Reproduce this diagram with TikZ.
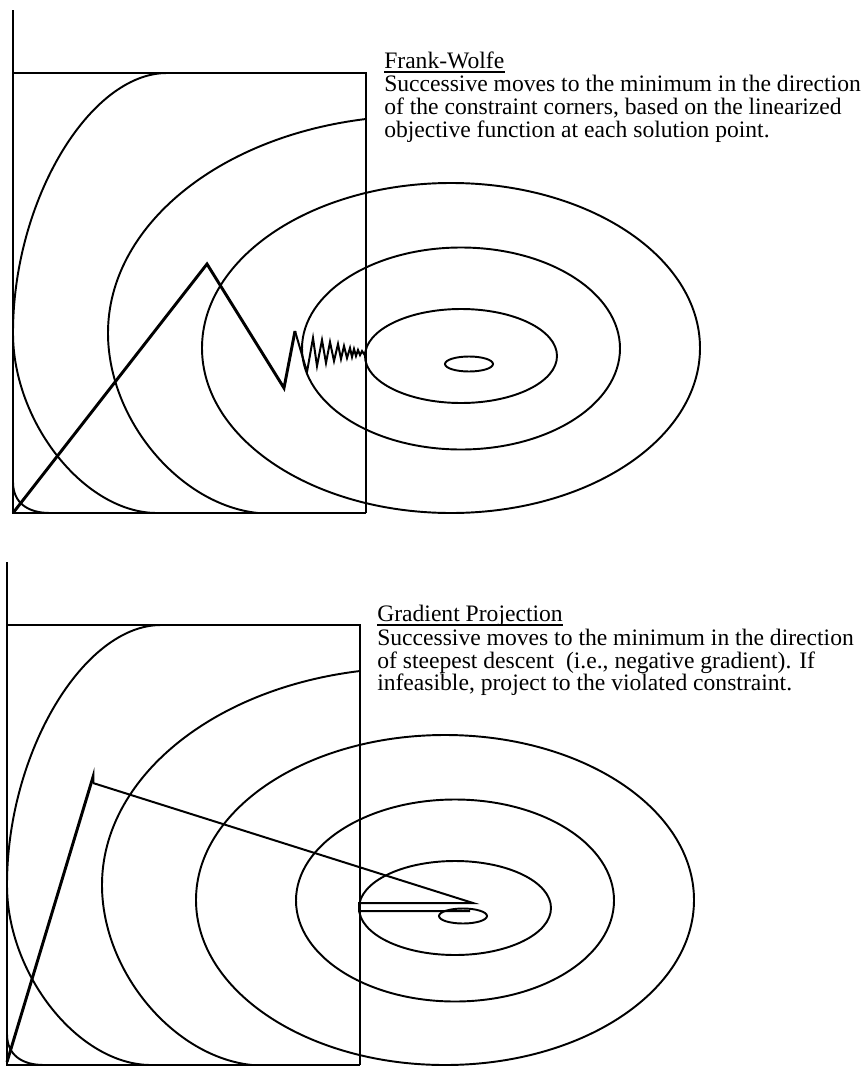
\documentclass[tikz,border=0pt]{standalone}
\usepackage{fontspec}
\setmainfont{Liberation Serif}
\newcommand\drawlevelset{%
  \draw[frame] (13,10) -- (13,513) -- (366,513);
  \draw[frame] (13,73) -- (366,73) -- (366,513);
  \draw[contour] (469,364) ellipse [x radius=24, y radius=7.5];
  \draw[contour] (461,356) ellipse [x radius=96, y radius=47];
  \draw[contour] (461,348.5) ellipse [x radius=159, y radius=101];
  \draw[contour] (451,348) ellipse [x radius=249, y radius=165];
  \draw[contour] (366,119) .. controls (217,137) and (108,227) .. (108,333)
                 .. controls (108,420) and (180,505) .. (258,513);
  \draw[contour] (167,73) .. controls (90,73) and (13,200) .. (13,333)
                 .. controls (13,423) and (85,513) .. (157,513);
  \draw[contour] (13,482) .. controls (13,503) and (28,513) .. (50,513);
}
\begin{document}
\begin{tikzpicture}[x=0.75pt,y=-0.75pt,
  contour/.style={line width=1.45pt},
  frame/.style={line width=1.6pt},
  route/.style={line width=2.2pt, line join=miter},
  thinroute/.style={line width=1.5pt, line join=miter},
  lbl/.style={anchor=base west, inner sep=0pt, font=\fontsize{17.7}{17}\selectfont},
  uline/.style={line width=1pt},
]
\useasboundingbox (0,0) rectangle (865,1067);

% ---------- top panel: Frank-Wolfe ----------
\begin{scope}
  \drawlevelset
\end{scope}
\draw[route] (13,513) -- (207,264) -- (284,388) -- (295,331);
\draw[thinroute] (295,331) -- (307,372) -- (313,338) -- (317,366) -- (322,340)
  -- (326,363) -- (330,342) -- (334,361) -- (338,344) -- (341,359)
  -- (344,346) -- (347,358) -- (350,348) -- (352,357) -- (354,349)
  -- (356,356) -- (358,350) -- (360,355) -- (362,351) -- (364,354) -- (366,352);

\node[lbl] (fwtitle) at (384,68.7) {Frank-Wolfe};
\draw[uline] ([yshift=-2.4pt]fwtitle.base west) -- ([yshift=-2.4pt]fwtitle.base east);
\node[lbl] (fwa) at (384,91.7) {Successive moves to the minimum in the direction};
\node[lbl] (fwb) at (384,114.7) {of the constraint corners, based on the linearized};
\node[lbl] (fwc) at (384,137.3) {objective function at each solution point.};

% ---------- bottom panel: Gradient Projection ----------
\begin{scope}[shift={(-6,552)}]
  \drawlevelset
\end{scope}
\draw[route] (7,1062) -- (93,777) -- (93,783);
\draw[thinroute] (93,783) -- (473,903) -- (359,903) -- (359,911) -- (470,911);

\node[lbl] (gptitle) at (377,621.7) {Gradient Projection};
\draw[uline] ([yshift=-2.4pt]gptitle.base west) -- ([yshift=-2.4pt]gptitle.base east);
\node[lbl] (gpa) at (377,645) {Successive moves to the minimum in the direction};
\node[lbl] (gpb) at (377,668) {of steepest descent~ (i.e., negative gradient). If};
\node[lbl] (gpc) at (377,690.7) {infeasible, project to the violated constraint.};
\end{tikzpicture}
\end{document}
